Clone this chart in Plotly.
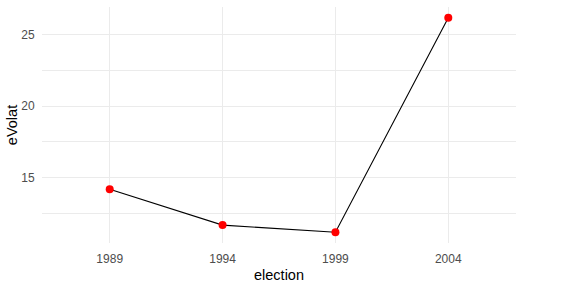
import plotly.graph_objects as go

election = ["1989", "1994", "1999", "2004"]
eVolat = [14.2, 11.7, 11.2, 26.17]
y_ticks = [15, 20, 25]
y_minor = [12.5, 17.5, 22.5]

fig = go.Figure()
fig.add_trace(go.Scatter(x=election, y=eVolat, mode="lines",
                         line=dict(color="black", width=1.1), showlegend=False))
fig.add_trace(go.Scatter(x=election, y=eVolat, mode="markers",
                         marker=dict(color="red", size=8), showlegend=False))

font = "Liberation Sans, Arial, sans-serif"
fig.update_layout(
    width=576, height=288,
    margin=dict(l=42, r=60, t=7, b=45),
    paper_bgcolor="white", plot_bgcolor="white",
    font=dict(family=font),
    xaxis=dict(type="category", range=[-0.6, 3.6], showgrid=True,
               gridcolor="#EBEBEB", gridwidth=1.1, zeroline=False, showline=False,
               tickfont=dict(size=12, color="#4D4D4D"),
               ticks="outside", ticklen=5, tickcolor="rgba(0,0,0,0)",
               title=dict(text="election", font=dict(size=14.5, color="black"), standoff=4)),
    yaxis=dict(range=[10.45, 26.92], tickvals=y_ticks, showgrid=True,
               gridcolor="#EBEBEB", gridwidth=1.1, zeroline=False, showline=False,
               tickfont=dict(size=12, color="#4D4D4D"),
               ticks="outside", ticklen=4, tickcolor="rgba(0,0,0,0)",
               minor=dict(tickvals=y_minor, showgrid=True, gridcolor="#EBEBEB", gridwidth=0.6),
               title=dict(text="eVolat", font=dict(size=14.5, color="black"), standoff=0)),
)
fig.write_html("out.html")
